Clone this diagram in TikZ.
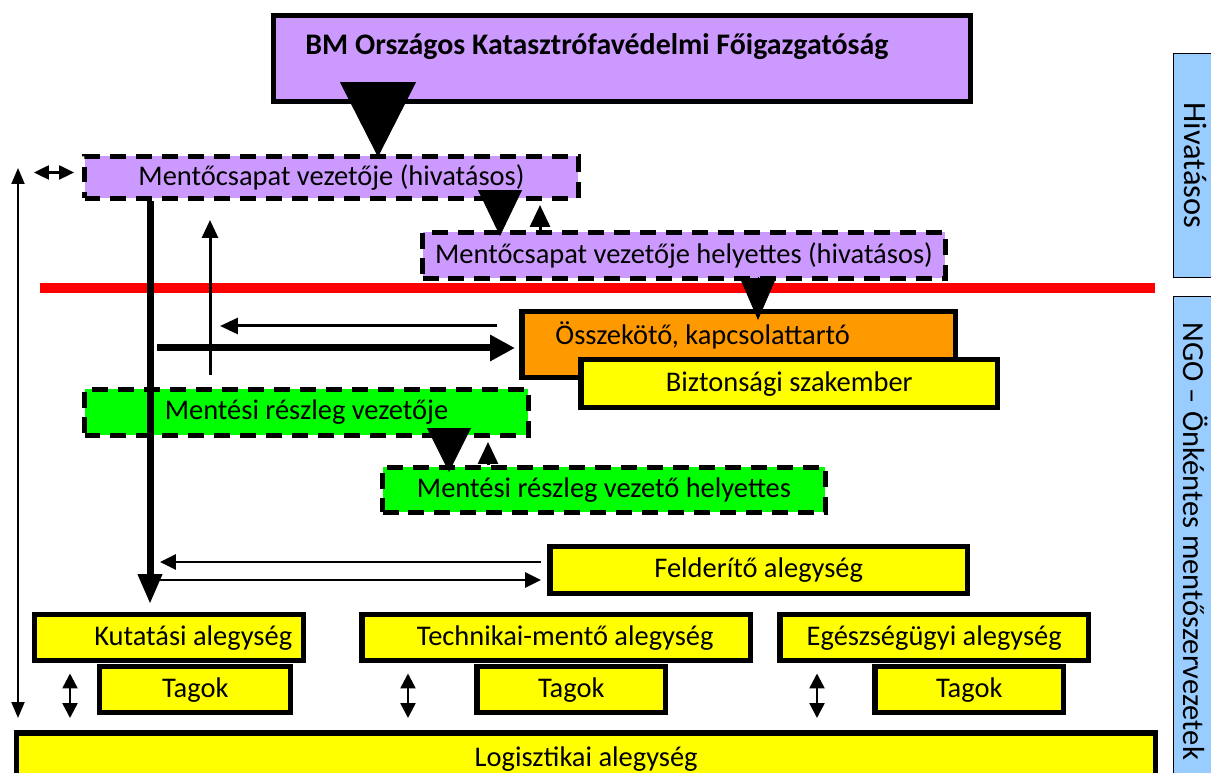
\documentclass[tikz,border=0pt]{standalone}
\usepackage{fontspec}
\setmainfont{Carlito}
\usepackage{tikz}
\usetikzlibrary{arrows.meta,calc}
\definecolor{lila}{HTML}{CC99FF}
\definecolor{narancs}{HTML}{FF9900}
\definecolor{sarga}{HTML}{FFFF00}
\definecolor{zold}{HTML}{00FF00}
\definecolor{kek}{HTML}{99CCFF}
\tikzset{smalltip/.tip={Triangle[width=0.3cm,length=0.3cm]}}
\begin{document}
\begin{tikzpicture}[x=0.02cm, y=-0.02cm, font=\fontsize{16.2}{19}\selectfont]
    \tikzstyle{unit} = [draw, line width=0.11cm, fill=sarga, inner sep=0pt, anchor=north west]
    \tikzstyle{lead} = [draw, line width=0.1cm, dash pattern=on 0.32cm off 0.2cm, inner sep=0pt, anchor=north west]
    \tikzstyle{side} = [draw, line width=0.4pt, fill=kek, inner sep=0pt, anchor=north west]
    \tikzstyle{sidetxt} = [rotate=-90, font=\fontsize{18.5}{22}\selectfont]
    \tikzstyle{bigtri} = [line width=0.5pt]
    \tikzstyle{lnk} = [line width=0.06cm]

    \useasboundingbox (0,0) rectangle (1211,773);

    % Helper coordinates
    \coordinate (edge) at (18,0);
    \coordinate (spine) at (150,0);
    \coordinate (rise) at (210,0);

    % Professional boxes
    \node[draw, line width=0.1cm, fill=lila, inner sep=0pt, anchor=north west,
          minimum width=13.94cm, minimum height=1.72cm, text height=0.3cm, text depth=0.44cm,
          font=\fontsize{17}{20}\selectfont\bfseries] (bm) at (271,13)
          {BM Országos Katasztrófavédelmi Főigazgatóság\hspace*{1cm}};
    \node[lead, fill=lila, minimum width=9.88cm, minimum height=0.84cm] (mv) at (82,154) {Mentőcsapat vezetője (hivatásos)};
    \node[lead, fill=lila, minimum width=10.46cm, minimum height=0.92cm] (hel) at (420,230) {Mentőcsapat vezetője helyettes (hivatásos)};

    % Border line
    \draw[red, line width=0.2cm] (40,288) -- (1155,288);

    % Volunteer boxes
    \node[unit, fill=narancs, minimum width=8.68cm, minimum height=1.32cm, text depth=0.45cm] (oss) at (519,309) {Összekötő, kapcsolattartó\hspace*{1.44cm}};
    \node[unit, minimum width=8.34cm, minimum height=0.96cm] (biz) at (578,357) {Biztonsági szakember};
    \node[lead, fill=zold, minimum width=8.88cm, minimum height=0.92cm] (mrv) at (82,387) {Mentési részleg vezetője};
    \node[lead, fill=zold, minimum width=8.86cm, minimum height=0.9cm] (mrh) at (380,465) {Mentési részleg vezető helyettes};
    \node[unit, minimum width=8.36cm, minimum height=0.94cm] (fel) at (547,544) {Felderítő alegység};
    \node[unit, minimum width=5.38cm, minimum height=0.92cm] (kut) at (32,612) {\hspace*{0.96cm}Kutatási alegység};
    \node[unit, minimum width=7.78cm, minimum height=0.92cm] (tech) at (359,612) {\hspace*{0.36cm}Technikai-mentő alegység};
    \node[unit, minimum width=6.18cm, minimum height=0.92cm] (egesz) at (777,612) {Egészségügyi alegység};
    \node[unit, minimum width=3.82cm, minimum height=0.92cm] (tag1) at (97,664) {Tagok};
    \node[unit, minimum width=3.78cm, minimum height=0.92cm] (tag2) at (474,664) {Tagok};
    \node[unit, minimum width=3.78cm, minimum height=0.92cm] (tag3) at (872,664) {Tagok};
    \node[unit, minimum width=22.78cm, minimum height=1.04cm] (log) at (14,730) {Logisztikai alegység};

    % Side labels
    \node[side, minimum width=0.88cm, minimum height=4.48cm] (hiv) at (1173,53) {};
    \node[sidetxt] (hivtxt) at (hiv.center) {Hivatásos};
    \node[side, minimum width=0.88cm, minimum height=9.8cm] (ngo) at (1173,296) {};
    \node[sidetxt, font=\fontsize{17.4}{21}\selectfont] (ngotxt) at (ngo.center) {NGO – Önkéntes mentőszervezetek};

    % Chain of command
    \draw[bigtri, -{Triangle[width=1.52cm,length=1.5cm]}] ($(bm.south -| 378,0)+(0,-18)$) -- ($(mv.north -| 378,0)+(0,3)$);
    \draw[bigtri, -{Triangle[width=0.88cm,length=0.92cm]}] ($(mv.south -| 500,0)+(0,-6)$) -- ($(hel.north -| 500,0)+(0,6)$);
    \draw[lnk, -{Triangle[width=0.4cm,length=0.44cm]}] (hel.north -| 540,0) -- ($(mv.south -| 540,0)+(0,4)$);
    \draw[bigtri, -{Triangle[width=0.72cm,length=0.84cm]}] ($(hel.south -| 758,0)+(0,-4)$) -- ($(oss.north -| 758,0)+(0,11)$);
    \draw[bigtri, -{Triangle[width=0.88cm,length=0.88cm]}] ($(mrv.south -| 449,0)+(0,-5)$) -- ($(mrh.north -| 449,0)+(0,7)$);
    \draw[lnk, -{Triangle[width=0.4cm,length=0.44cm]}] (mrh.north -| 488,0) -- ($(mrv.south -| 488,0)+(0,4)$);

    % Main lines
    \draw[line width=0.14cm, -{Triangle[width=0.46cm,length=0.6cm]}] (mv.south -| spine) -- ($(kut.north -| spine)+(0,-8)$);
    \draw[lnk, -{Triangle[width=0.32cm,length=0.36cm]}] ($(mrv.north -| rise)+(0,-12)$) -- ($(mv.south -| rise)+(0,19)$);
    \draw[lnk, -{Triangle[width=0.32cm,length=0.36cm]}] ($(oss.west |- 0,326)+(-22,0)$) -- ($(rise |- 0,326)+(10,0)$);
    \draw[line width=0.14cm, -{Triangle[width=0.5cm,length=0.5cm]}] ($(spine |- 0,348)+(7,0)$) -- ($(oss.west |- 0,348)+(-4,0)$);
    \draw[lnk, -{Triangle[width=0.3cm,length=0.32cm]}] ($(fel.west |- 0,562)+(-6,0)$) -- ($(spine |- 0,562)+(10,0)$);
    \draw[lnk, -{Triangle[width=0.3cm,length=0.32cm]}] ($(spine |- 0,580)+(6,0)$) -- ($(fel.west |- 0,580)+(-6,0)$);

    % Two-way links
    \draw[line width=0.05cm, {Triangle[width=0.28cm,length=0.3cm]}-{Triangle[width=0.28cm,length=0.3cm]}] ($(mv.west)+(-8,-5)$) -- ($(mv.west)+(-48,-5)$);
    \draw[line width=0.04cm, {Triangle[width=0.26cm,length=0.32cm]}-{Triangle[width=0.26cm,length=0.32cm]}] ($(mv.north -| edge)+(0,14)$) -- ($(log.north -| edge)+(0,-12)$);
    \foreach \lx/\nd in {70/kut, 408/tech, 817/egesz}
        \draw[line width=0.05cm, smalltip-smalltip] ($(\nd.south -| \lx,0)+(0,10)$) -- ($(log.north -| \lx,0)+(0,-12)$);

\end{tikzpicture}
\end{document}
